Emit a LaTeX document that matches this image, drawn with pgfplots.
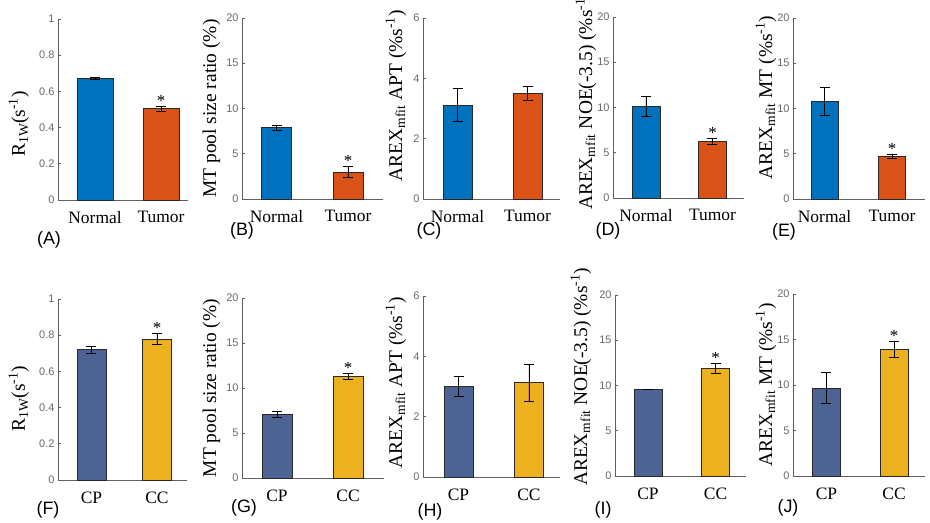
\documentclass[border=0pt]{standalone}
\usepackage{pgfplots}
\pgfplotsset{compat=1.18}
\usepackage{fontspec}
\setmainfont{Liberation Serif}
\newfontfamily\arial{Liberation Sans}
\definecolor{blueM}{RGB}{0,114,189}
\definecolor{orangeM}{RGB}{217,83,25}
\definecolor{slateM}{RGB}{76,99,148}
\definecolor{yellowM}{RGB}{237,177,32}
\definecolor{axisgray}{RGB}{95,95,95}
\definecolor{ticklabgray}{RGB}{105,105,105}
\definecolor{edgegray}{RGB}{40,40,40}
\pgfplotsset{
 panel/.style={
  scale only axis, anchor=south west,
  ybar, bar shift=0pt,
  ymin=0,
  axis x line*=bottom, axis y line*=left,
  axis line style={draw=axisgray, line width=0.6bp},
  tick align=inside, major tick length=3bp,
  ytick style={draw=axisgray, line width=0.6bp},
  xtick={1,2}, xtick style={draw=none},
  xticklabel style={font=\fontsize{17.5}{18}\selectfont, text=black, yshift=-8bp},
  yticklabel style={font=\arial\fontsize{11}{12}\selectfont, text=ticklabgray},
  /pgf/number format/assume math mode=true,
  every axis plot/.append style={draw=edgegray, line width=0.8bp},
  error bars/y dir=both, error bars/y explicit,
  error bars/error bar style={black, line width=0.8bp},
  error bars/error mark options={rotate=90, mark size=5bp, black, line width=0.8bp},
  clip=false,
 },
 ylab/.style 2 args={ylabel style={at={(axis description cs:0,#2)}, anchor=base, yshift=#1bp, font=\fontsize{19.5}{21}\selectfont}},
 top/.style={xticklabels={Normal,Tumor}},
 bot/.style={xticklabels={CP,CC}},
 r1/.style={ymax=1, ytick={0,0.2,0.4,0.6,0.8,1}, yticklabels={0,0.2,0.4,0.6,0.8,1}},
 r20/.style={ymax=20, ytick={0,5,10,15,20}, yticklabels={0,5,10,15,20}},
 r6/.style={ymax=6, ytick={0,2,4,6}, yticklabels={0,2,4,6}},
}
\tikzset{star/.style={anchor=base, font=\fontsize{17}{17}\selectfont, inner sep=0pt},
 plab/.style={font=\arial\fontsize{18}{18}\selectfont, inner sep=0pt}}
\begin{document}
\begin{tikzpicture}
\useasboundingbox (0bp,0bp) rectangle (930bp,523bp);
% (A)
\begin{axis}[panel, top, r1, at={(58bp,323bp)}, width=130bp, height=181bp, xmin=0.439, xmax=2.409, bar width=36bp,
  ylab={33}{0.42}, ylabel={R\textsubscript{1W}(s\textsuperscript{-1})}]
\addplot[fill=blueM] coordinates {(1,0.672) +- (0,0.003)};
\addplot[fill=orangeM] coordinates {(2,0.504) +- (0,0.014)};
\node[star] at (axis cs:2,0.518) {*};
\end{axis}
% (B)
\begin{axis}[panel, top, r20, at={(242bp,324bp)}, width=141bp, height=181bp, xmin=0.517, xmax=2.490, bar width=30bp,
  ylab={26}{0.5}, ylabel={MT pool size ratio (\%)}]
\addplot[fill=blueM] coordinates {(1,7.9) +- (0,0.28)};
\addplot[fill=orangeM] coordinates {(2,2.95) +- (0,0.6)};
\node[star] at (axis cs:2,3.55) {*};
\end{axis}
% (C)
\begin{axis}[panel, top, r6, at={(423bp,324bp)}, width=137bp, height=181bp, xmin=0.507, xmax=2.464, bar width=29bp,
  ylab={21}{0.57}, ylabel={AREX\textsubscript{mfit} APT (\%s\textsuperscript{-1})}]
\addplot[fill=blueM] coordinates {(1,3.11) +- (0,0.55)};
\addplot[fill=orangeM] coordinates {(2,3.5) +- (0,0.22)};
\end{axis}
% (D)
\begin{axis}[panel, top, r20, at={(613bp,325bp)}, width=131bp, height=181bp, xmin=0.504, xmax=2.474, bar width=28bp,
  ylab={21}{0.536}, ylabel={AREX\textsubscript{mfit} NOE(-3.5) (\%s\textsuperscript{-1})}]
\addplot[fill=blueM] coordinates {(1,10.12) +- (0,1.1)};
\addplot[fill=orangeM] coordinates {(2,6.25) +- (0,0.37)};
\node[star] at (axis cs:2,6.62) {*};
\end{axis}
% (E)
\begin{axis}[panel, top, r20, at={(793bp,324bp)}, width=132bp, height=181bp, xmin=0.533, xmax=2.489, bar width=27bp,
  ylab={21}{0.56}, ylabel={AREX\textsubscript{mfit} MT (\%s\textsuperscript{-1})}]
\addplot[fill=blueM] coordinates {(1,10.79) +- (0,1.5)};
\addplot[fill=orangeM] coordinates {(2,4.71) +- (0,0.25)};
\node[star] at (axis cs:2,4.96) {*};
\end{axis}
% (F)
\begin{axis}[panel, bot, r1, at={(58bp,43bp)}, width=129bp, height=181bp, xmin=0.489, xmax=2.458, bar width=29bp,
  ylab={33}{0.45}, ylabel={R\textsubscript{1W}(s\textsuperscript{-1})}]
\addplot[fill=slateM] coordinates {(1,0.72) +- (0,0.02)};
\addplot[fill=yellowM] coordinates {(2,0.779) +- (0,0.03)};
\node[star] at (axis cs:2,0.809) {*};
\end{axis}
% (G)
\begin{axis}[panel, bot, r20, at={(242bp,45bp)}, width=142bp, height=180bp, xmin=0.507, xmax=2.507, bar width=30bp,
  ylab={26}{0.5}, ylabel={MT pool size ratio (\%)}]
\addplot[fill=slateM] coordinates {(1,7.08) +- (0,0.3)};
\addplot[fill=yellowM] coordinates {(2,11.29) +- (0,0.33)};
\node[star] at (axis cs:2,11.62) {*};
\end{axis}
% (H)
\begin{axis}[panel, bot, r6, at={(423bp,46bp)}, width=137bp, height=181bp, xmin=0.496, xmax=2.44, bar width=29bp,
  ylab={21}{0.52}, ylabel={AREX\textsubscript{mfit} APT (\%s\textsuperscript{-1})}]
\addplot[fill=slateM] coordinates {(1,3.0) +- (0,0.34)};
\addplot[fill=yellowM] coordinates {(2,3.12) +- (0,0.62)};
\end{axis}
% (I)
\begin{axis}[panel, bot, r20, at={(615bp,47bp)}, width=131bp, height=181bp, xmin=0.511, xmax=2.452, bar width=28bp,
  ylab={28}{0.547}, ylabel={AREX\textsubscript{mfit} NOE(-3.5) (\%s\textsuperscript{-1})}]
\addplot[fill=slateM] coordinates {(1,9.54) +- (0,0)};
\addplot[fill=yellowM] coordinates {(2,11.9) +- (0,0.55)};
\node[star] at (axis cs:2,12.45) {*};
\end{axis}
% (J)
\begin{axis}[panel, bot, r20, at={(793bp,47bp)}, width=132bp, height=182bp, xmin=0.504, xmax=2.459, bar width=28bp,
  ylab={21}{0.5}, ylabel={AREX\textsubscript{mfit} MT (\%s\textsuperscript{-1})}]
\addplot[fill=slateM] coordinates {(1,9.65) +- (0,1.7)};
\addplot[fill=yellowM] coordinates {(2,13.94) +- (0,0.86)};
\node[star] at (axis cs:2,14.8) {*};
\end{axis}
% panel letters
\node[plab] at (49bp,283bp) {(A)};
\node[plab] at (242bp,292bp) {(B)};
\node[plab] at (429bp,292bp) {(C)};
\node[plab] at (608bp,292bp) {(D)};
\node[plab] at (784bp,291bp) {(E)};
\node[plab] at (48bp,13bp) {(F)};
\node[plab] at (244bp,15bp) {(G)};
\node[plab] at (430bp,11bp) {(H)};
\node[plab] at (603bp,13bp) {(I)};
\node[plab] at (788bp,15bp) {(J)};
\end{tikzpicture}
\end{document}
